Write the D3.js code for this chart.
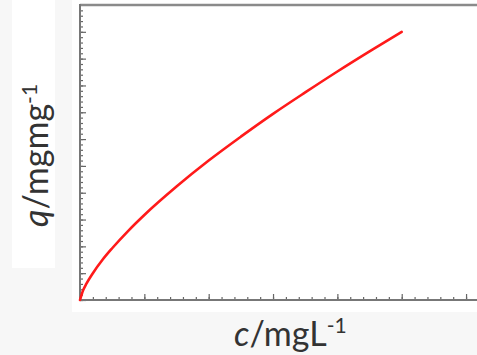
<!DOCTYPE html>
<html>
<head>
<meta charset="utf-8">
<script src="https://cdn.jsdelivr.net/npm/d3@7"></script>
<style>
  html, body { margin: 0; padding: 0; background: #f7f7f7; }
  svg { display: block; }
</style>
</head>
<body>
<div id="chart"></div>
<script>
// isotherm: c (mg/L) vs q (mg/mg)
const concentration = [0, 0.05, 0.1, 0.2, 0.35, 0.5, 0.75, 1, 1.5, 2, 2.5, 3, 3.5, 4, 4.5, 5];
const uptake = [0, 0.37, 0.61, 1.0, 1.5, 1.93, 2.58, 3.17, 4.23, 5.2, 6.09, 6.94, 7.74, 8.52, 9.27, 10.0];
const xMajorTicks = [0, 1, 2, 3, 4, 5, 6];
const yMajorTicks = [0, 1, 2, 3, 4, 5, 6, 7, 8, 9, 10];

const width = 477, height = 355;
const plot = { left: 80, top: 5, bottom: 300 };

const svg = d3.select('#chart').append('svg')
  .attr('width', width)
  .attr('height', height);

// backdrop boxes
svg.append('rect').attr('x', 72).attr('y', 0).attr('width', width - 72).attr('height', 312).attr('fill', '#fff');
svg.append('rect').attr('x', 12).attr('y', 0).attr('width', 43).attr('height', 268).attr('fill', '#fff');

const x = d3.scaleLinear().domain([0, 6.17]).range([plot.left, width]);
const y = d3.scaleLinear().domain([0, 11]).range([plot.bottom, plot.top]);

const minorX = d3.range(0, 6.2, 0.2);
const minorY = d3.range(0, 11, 0.2);

// x axis, ticks pointing in
const gx = svg.append('g').attr('transform', `translate(0,${plot.bottom})`);
gx.call(d3.axisBottom(x).tickValues(minorX).tickSize(-3).tickFormat(''));
gx.append('g').call(d3.axisBottom(x).tickValues(xMajorTicks).tickSize(-6).tickFormat(''));
gx.selectAll('.domain').remove();
gx.selectAll('line').attr('stroke', '#666').attr('stroke-width', 1.2);

const gy = svg.append('g').attr('transform', `translate(${plot.left},0)`);
gy.call(d3.axisLeft(y).tickValues(minorY).tickSize(-3).tickFormat(''));
gy.append('g').call(d3.axisLeft(y).tickValues(yMajorTicks).tickSize(-6).tickFormat(''));
gy.selectAll('.domain').remove();
gy.selectAll('line').attr('stroke', '#666').attr('stroke-width', 1.2);

// frame lines
svg.append('line').attr('x1', plot.left).attr('x2', width).attr('y1', plot.top).attr('y2', plot.top)
  .attr('stroke', '#8a8a8a').attr('stroke-width', 2.5);
svg.append('line').attr('x1', plot.left).attr('x2', width).attr('y1', plot.bottom).attr('y2', plot.bottom)
  .attr('stroke', '#777').attr('stroke-width', 2);
svg.append('line').attr('x1', plot.left).attr('x2', plot.left).attr('y1', plot.top - 1).attr('y2', plot.bottom + 1)
  .attr('stroke', '#777').attr('stroke-width', 2);

// the curve
const line = d3.line()
  .x((d, i) => x(concentration[i]))
  .y(d => y(d))
  .curve(d3.curveMonotoneX);

svg.append('path')
  .datum(uptake)
  .attr('d', line)
  .attr('fill', 'none')
  .attr('stroke', '#ff1a1a')
  .attr('stroke-width', 2.6)
  .attr('stroke-linecap', 'round');

// axis titles
const font = 'Lato, "Open Sans", sans-serif';
const xt = svg.append('text')
  .attr('x', 234).attr('y', 346)
  .attr('font-family', font).attr('font-size', 34).attr('fill', '#333');
xt.append('tspan').attr('font-style', 'italic').text('c');
xt.append('tspan').text('/mgL');
xt.append('tspan').attr('font-size', 21).attr('dy', -13).text('-1');

const yt = svg.append('text')
  .attr('transform', 'translate(48,227) rotate(-90)')
  .attr('font-family', font).attr('font-size', 34).attr('fill', '#333');
yt.append('tspan').attr('font-style', 'italic').text('q');
yt.append('tspan').text('/mgmg');
yt.append('tspan').attr('font-size', 21).attr('dy', -11).text('-1');
</script>
</body>
</html>
